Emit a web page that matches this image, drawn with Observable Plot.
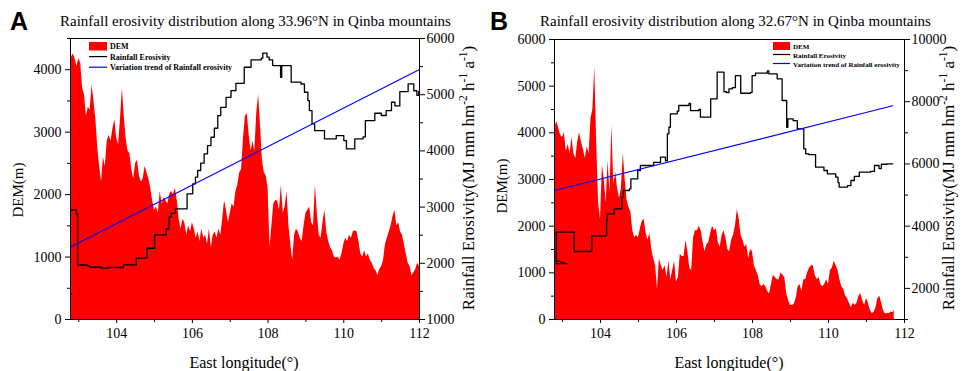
<!DOCTYPE html>
<html><head><meta charset="utf-8">
<script src="https://cdn.jsdelivr.net/npm/d3@7"></script>
<script src="https://cdn.jsdelivr.net/npm/@observablehq/plot@0.6"></script>
<style>
body{margin:0;background:#fff;}
#wrap{display:flex;width:964px;height:371px;overflow:hidden;}
</style></head><body><div id="wrap"></div>
<script>
// ---------- Data ----------
const titleA = "Rainfall erosivity distribution along 33.96°N in Qinba mountains";
const titleB = "Rainfall erosivity distribution along 32.67°N in Qinba mountains";
const legendLabels = ["DEM", "Rainfall Erosivity", "Variation trend of Rainfall erosivity"];
const xTicks = [104, 106, 108, 110, 112];
const xMinor = [103, 105, 107, 109, 111];

// Panel A: DEM profile [longitude, elevation m]
const demA = [[102.78,4150],[102.80,4200],[102.85,4250],[102.90,4180],[102.95,4050],[103.00,4180],[103.05,4100],[103.10,3700],[103.15,3600],[103.20,3250],[103.25,3400],[103.30,3350],[103.35,3750],[103.40,3500],[103.45,3200],[103.50,2750],[103.55,2450],[103.60,2200],[103.65,2600],[103.70,2450],[103.75,2850],[103.80,2950],[103.85,2850],[103.90,3050],[103.95,3200],[104.00,2900],[104.05,2800],[104.10,3200],[104.15,3700],[104.20,3250],[104.25,2900],[104.30,2700],[104.35,2650],[104.40,2400],[104.45,2250],[104.50,2500],[104.55,2550],[104.60,2300],[104.65,2200],[104.70,2250],[104.75,2450],[104.80,2350],[104.85,2250],[104.90,2100],[104.95,1900],[105.00,1750],[105.05,1800],[105.10,1700],[105.15,2050],[105.20,1850],[105.25,1950],[105.30,1900],[105.35,1850],[105.40,2000],[105.45,2050],[105.50,2000],[105.55,2100],[105.60,1900],[105.65,1600],[105.70,1450],[105.75,1600],[105.80,1550],[105.85,1350],[105.90,1500],[105.95,1400],[106.00,1550],[106.05,1450],[106.10,1300],[106.15,1400],[106.20,1250],[106.25,1450],[106.30,1300],[106.35,1350],[106.40,1200],[106.45,1450],[106.50,1150],[106.55,1350],[106.60,1400],[106.65,1300],[106.70,1450],[106.75,1350],[106.80,1600],[106.85,1900],[106.90,1750],[106.95,1550],[107.00,1700],[107.05,1850],[107.10,1800],[107.15,2050],[107.20,2150],[107.25,2350],[107.30,2400],[107.35,2900],[107.40,3250],[107.45,3300],[107.50,2950],[107.55,2700],[107.60,2850],[107.65,2700],[107.70,3300],[107.75,3600],[107.80,3100],[107.85,2550],[107.90,2350],[107.95,2300],[108.00,2100],[108.05,1150],[108.10,1500],[108.15,1850],[108.20,1900],[108.25,1900],[108.30,1750],[108.35,2150],[108.40,1700],[108.45,1800],[108.50,2050],[108.55,1500],[108.60,1200],[108.65,950],[108.70,1350],[108.75,1450],[108.80,1400],[108.85,1300],[108.90,1250],[108.95,1500],[109.00,1700],[109.05,1750],[109.10,1800],[109.15,1550],[109.20,1500],[109.25,2150],[109.30,1700],[109.35,1350],[109.40,1300],[109.45,1550],[109.50,1750],[109.55,1400],[109.60,1250],[109.65,1150],[109.70,1100],[109.75,1000],[109.80,980],[109.85,1000],[109.90,950],[109.95,1050],[110.00,1200],[110.05,1300],[110.10,1250],[110.15,1350],[110.20,1300],[110.25,1400],[110.30,1420],[110.35,1400],[110.40,1250],[110.45,1050],[110.50,1000],[110.55,1100],[110.60,1000],[110.65,1050],[110.70,950],[110.75,900],[110.80,820],[110.85,780],[110.90,700],[110.95,800],[111.00,850],[111.05,950],[111.10,1200],[111.15,1300],[111.20,1400],[111.25,1500],[111.30,1650],[111.35,1750],[111.40,1500],[111.45,1550],[111.50,1400],[111.55,1350],[111.60,1200],[111.65,1050],[111.70,900],[111.75,850],[111.80,700],[111.85,750],[111.90,800],[111.95,900],[112.00,850]];

// Panel A: rainfall erosivity steps [longitude, MJ mm hm-2 h-1 a-1]
const rainA = [[102.78,2950],[102.93,2880],[102.97,1970],[103.24,1945],[103.30,1930],[103.60,1913],[103.79,1925],[104.18,1973],[104.52,2091],[104.80,2268],[105.00,2506],[105.31,2613],[105.38,2820],[105.44,2890],[105.55,2969],[105.86,3236],[106.01,3414],[106.08,3532],[106.14,3651],[106.22,3781],[106.31,3948],[106.40,4095],[106.49,4243],[106.58,4403],[106.67,4629],[106.75,4776],[106.89,4954],[107.02,5073],[107.15,5203],[107.37,5488],[107.55,5619],[107.82,5650],[107.86,5738],[107.97,5667],[108.03,5619],[108.12,5519],[108.33,5310],[108.36,5519],[108.61,5222],[108.87,5190],[108.96,5044],[109.05,4896],[109.09,4718],[109.16,4481],[109.23,4362],[109.49,4214],[109.80,4273],[110.00,4184],[110.07,4036],[110.29,4214],[110.51,4250],[110.57,4540],[110.82,4670],[110.99,4630],[111.12,4718],[111.26,4866],[111.35,4800],[111.48,5056],[111.70,5193],[111.85,5070],[111.93,4990],[111.98,5060],[112.00,5060]];
const trendA = [[102.78,2290],[112.00,5450]];

// Panel B: DEM profile
const demB = [[102.79,4050],[102.80,4100],[102.85,4250],[102.90,4100],[102.95,3950],[103.00,3900],[103.05,4000],[103.10,3600],[103.15,3750],[103.20,3550],[103.25,3900],[103.30,3550],[103.35,3450],[103.40,3800],[103.45,4000],[103.50,3800],[103.55,3650],[103.60,3450],[103.65,3700],[103.70,3550],[103.75,4300],[103.80,4500],[103.85,5400],[103.90,3800],[103.95,2500],[104.00,2150],[104.05,3300],[104.10,3000],[104.15,2500],[104.20,3400],[104.25,2700],[104.30,4150],[104.35,2900],[104.40,3150],[104.45,2800],[104.50,2600],[104.55,2800],[104.60,3550],[104.65,3000],[104.70,2550],[104.75,2400],[104.80,2300],[104.85,1900],[104.90,1750],[104.95,1800],[105.00,1750],[105.05,1950],[105.10,2100],[105.15,2150],[105.20,1850],[105.25,1700],[105.30,1850],[105.35,1500],[105.40,1300],[105.45,1150],[105.50,650],[105.55,1300],[105.60,1150],[105.65,1050],[105.70,1150],[105.75,900],[105.80,1250],[105.85,850],[105.90,1050],[105.95,1250],[106.00,800],[106.05,900],[106.10,1400],[106.15,1350],[106.20,1350],[106.25,1700],[106.30,1450],[106.35,1100],[106.40,1050],[106.45,1750],[106.50,1900],[106.55,1900],[106.60,2000],[106.65,1900],[106.70,1650],[106.75,1450],[106.80,1600],[106.85,1650],[106.90,1850],[106.95,2000],[107.00,1900],[107.05,1950],[107.10,1650],[107.15,1550],[107.20,1800],[107.25,1900],[107.30,1750],[107.35,1500],[107.40,1450],[107.45,1700],[107.50,1800],[107.55,2000],[107.60,2350],[107.65,2150],[107.70,1800],[107.75,1700],[107.80,1550],[107.85,1600],[107.90,1300],[107.95,1500],[108.00,1450],[108.05,1150],[108.10,1050],[108.15,950],[108.20,750],[108.25,700],[108.30,750],[108.35,700],[108.40,600],[108.45,550],[108.50,750],[108.55,950],[108.60,900],[108.65,850],[108.70,850],[108.75,1000],[108.80,950],[108.85,900],[108.90,550],[108.95,400],[109.00,300],[109.05,300],[109.10,330],[109.15,450],[109.20,700],[109.25,750],[109.30,600],[109.35,850],[109.40,850],[109.45,1000],[109.50,1100],[109.55,1150],[109.60,1150],[109.65,950],[109.70,850],[109.75,900],[109.80,750],[109.85,700],[109.90,750],[109.95,850],[110.00,750],[110.05,1050],[110.10,1100],[110.15,1250],[110.20,1150],[110.25,1050],[110.30,850],[110.35,700],[110.40,650],[110.45,500],[110.50,450],[110.55,350],[110.60,250],[110.65,350],[110.70,300],[110.75,350],[110.80,500],[110.85,550],[110.90,400],[110.95,300],[111.00,450],[111.05,350],[111.10,200],[111.15,130],[111.20,150],[111.25,250],[111.30,450],[111.35,500],[111.40,350],[111.45,180],[111.50,120],[111.55,130],[111.60,130],[111.65,160],[111.70,150],[111.73,200]];

// Panel B: rainfall erosivity
const rainBStart = [[102.84,2896],[103.12,2790],[102.84,2790]];
const rainB = [[102.84,2790],[102.84,3806],[103.31,3186],[103.77,3690],[104.16,4182],[104.18,4397],[104.36,4558],[104.56,4931],[104.60,5146],[104.76,5200],[104.80,5522],[104.98,5789],[105.05,5950],[105.40,6050],[105.58,6216],[105.71,6100],[105.76,6967],[105.80,7180],[105.84,7610],[106.02,7700],[106.06,7878],[106.33,7950],[106.37,7717],[106.59,7750],[106.63,7502],[106.90,8092],[107.07,8949],[107.25,8320],[107.32,8290],[107.38,8414],[107.47,8450],[107.55,8842],[107.69,8273],[107.95,8300],[107.99,8842],[108.08,8916],[108.39,8990],[108.43,8895],[108.65,8736],[108.78,8039],[108.90,7180],[108.93,7450],[109.07,7390],[109.18,7128],[109.35,6486],[109.40,6325],[109.48,6300],[109.66,5896],[109.88,5789],[109.97,5682],[110.19,5575],[110.25,5400],[110.28,5253],[110.50,5300],[110.59,5468],[110.68,5600],[110.81,5735],[111.11,5760],[111.21,5950],[111.33,5850],[111.39,5990],[111.54,6004],[111.69,6004]];
const trendB = [[102.79,5146],[111.69,7870]];

// Axis tick values
const leftTicksA = [0, 1000, 2000, 3000, 4000];
const leftMinorA = [500, 1500, 2500, 3500, 4500];
const rightTicksA = [1000, 2000, 3000, 4000, 5000, 6000];
const rightMinorA = [1500, 2500, 3500, 4500, 5500];
const leftTicksB = [0, 1000, 2000, 3000, 4000, 5000, 6000];
const leftMinorB = [500, 1500, 2500, 3500, 4500, 5500];
const rightTicksB = [2000, 4000, 6000, 8000, 10000];
const rightMinorB = [1000, 3000, 5000, 7000, 9000];

// ---------- Rendering ----------
const serif = "'Liberation Serif','Times New Roman',serif";
const sans = "'Liberation Sans',Arial,sans-serif";

function panel(o) {
  const k = (o.yL[1] - o.yL[0]) / (o.yR[1] - o.yR[0]);
  const toL = r => (r - o.yR[0]) * k;
  const fromL = v => String(Math.round(v / k + o.yR[0]));
  const X = d => d[0];
  const marks = [
    Plot.areaY(o.dem, {x: X, y: d => d[1], fill: "#ff0000"}),
    Plot.lineY(o.rain, {x: X, y: d => toL(d[1]), curve: "step-after", stroke: "#000", strokeWidth: 1.3})
  ];
  if (o.rainStart) marks.push(Plot.lineY(o.rainStart, {x: X, y: d => toL(d[1]), stroke: "#000", strokeWidth: 1.1}));
  marks.push(
    Plot.lineY(o.trend, {x: X, y: d => toL(d[1]), stroke: "#0000ff", strokeWidth: 1.2}),
    Plot.frame({stroke: "#000", strokeWidth: 1}),
    Plot.axisX({ticks: xTicks, tickSize: 4, tickPadding: 5, tickFormat: d => String(d), label: null}),
    Plot.axisX({ticks: xMinor, tickSize: 3, tickFormat: () => "", label: null}),
    Plot.axisY({ticks: o.leftTicks, tickSize: 5, tickPadding: 4, tickFormat: d => String(d), label: null}),
    Plot.axisY({ticks: o.leftMinor, tickSize: 3, tickFormat: () => "", label: null}),
    Plot.axisY({anchor: "right", ticks: o.rightTicks.map(toL), tickFormat: fromL, tickSize: 5, tickPadding: 2, label: null}),
    Plot.axisY({anchor: "right", ticks: o.rightMinor.map(toL), tickSize: 3, tickFormat: () => "", label: null})
  );
  const svg = Plot.plot({
    width: 482, height: 371,
    marginLeft: o.ml, marginRight: o.mr, marginTop: o.mt, marginBottom: 52,
    x: {domain: o.xDomain},
    y: {domain: o.yL},
    style: {fontFamily: serif, fontSize: "14px", color: "#000", background: "#fff", overflow: "visible"},
    marks
  });
  const s = d3.select(svg);
  const txt = (x, y, str, fs, anchor, family, weight) => s.append("text")
    .attr("x", x).attr("y", y).attr("text-anchor", anchor).attr("font-family", family)
    .attr("font-weight", weight).attr("font-size", fs).attr("fill", "#000").text(str);
  // panel letter and title
  txt(o.letterX, 30, o.letter, 25, "start", sans, "bold");
  txt(o.titleX, 26, o.title, 15, "start", serif, "normal");
  // axis titles
  s.append("text").attr("transform", `translate(${o.leftLabelX},${o.leftLabelY}) rotate(-90)`)
    .attr("text-anchor", "middle").attr("font-family", serif).attr("font-size", 15).attr("fill", "#000").text("DEM(m)");
  const r = s.append("text").attr("transform", `translate(${o.rightLabelX},178) rotate(-90)`)
    .attr("text-anchor", "middle").attr("font-family", serif).attr("font-size", 17).attr("fill", "#000");
  r.append("tspan").text("Rainfall Erosivity(MJ mm hm");
  r.append("tspan").attr("font-size", 11.5).attr("dy", -7).text("-2");
  r.append("tspan").attr("dy", 7).text(" h");
  r.append("tspan").attr("font-size", 11.5).attr("dy", -7).text("-1");
  r.append("tspan").attr("dy", 7).text(" a");
  r.append("tspan").attr("font-size", 11.5).attr("dy", -7).text("-1");
  r.append("tspan").attr("dy", 7).text(")");
  txt(o.bottomLabelX, 368, "East longitude(°)", 16, "middle", serif, "normal");
  // legend
  const L = o.legend;
  s.append("rect").attr("x", L.x).attr("y", L.y).attr("width", L.w).attr("height", L.h).attr("fill", "#ff0000");
  const rows = [L.y + L.h - 1.5, L.y + L.h - 1.5 + L.dy, L.y + L.h - 1.5 + 2 * L.dy];
  s.append("line").attr("x1", L.x).attr("x2", L.x + L.w).attr("y1", rows[1] - 3).attr("y2", rows[1] - 3).attr("stroke", "#000").attr("stroke-width", 1.2);
  s.append("line").attr("x1", L.x).attr("x2", L.x + L.w).attr("y1", rows[2] - 3).attr("y2", rows[2] - 3).attr("stroke", "#0000ff").attr("stroke-width", 1.2);
  legendLabels.forEach((t, i) => txt(L.x + L.w + 3, rows[i], t, L.fs, "start", serif, "bold"));
  return svg;
}

const wrap = document.getElementById("wrap");
wrap.appendChild(panel({
  letter: "A", letterX: 10, title: titleA, titleX: 60,
  dem: demA, rain: rainA, trend: trendA,
  xDomain: [102.78, 112], yL: [0, 4500], yR: [1000, 6000],
  leftTicks: leftTicksA, leftMinor: leftMinorA, rightTicks: rightTicksA, rightMinor: rightMinorA,
  ml: 70, mr: 63, mt: 38,
  leftLabelX: 23, leftLabelY: 190, rightLabelX: 474, bottomLabelX: 244,
  legend: {x: 89, y: 42, w: 18, h: 8.5, dy: 10.6, fs: 8}
}));
wrap.appendChild(panel({
  letter: "B", letterX: 8, title: titleB, titleX: 58,
  dem: demB, rain: rainB, rainStart: rainBStart, trend: trendB,
  xDomain: [102.79, 112], yL: [0, 6000], yR: [1000, 10000],
  leftTicks: leftTicksB, leftMinor: leftMinorB, rightTicks: rightTicksB, rightMinor: rightMinorB,
  ml: 72, mr: 60, mt: 39,
  leftLabelX: 25, leftLabelY: 186, rightLabelX: 472, bottomLabelX: 247,
  legend: {x: 291, y: 42, w: 17, h: 8, dy: 9, fs: 7}
}));
</script></body></html>
